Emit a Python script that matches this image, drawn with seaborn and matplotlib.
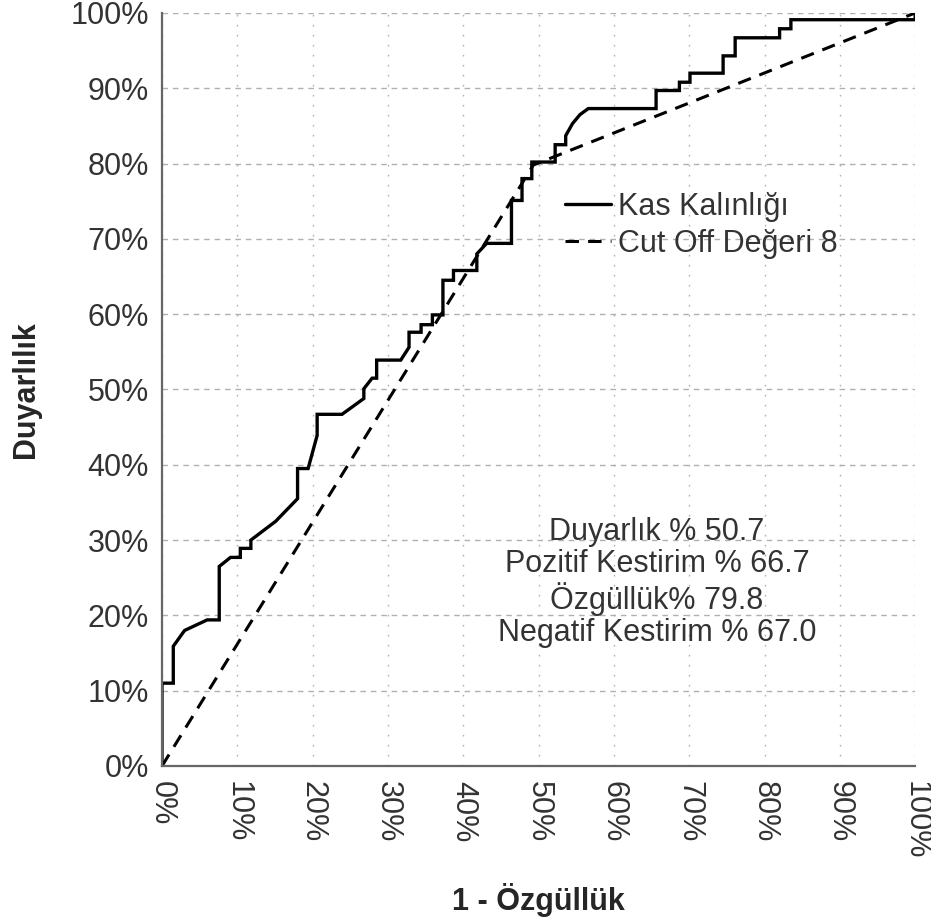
import matplotlib
matplotlib.use("Agg")
import matplotlib.pyplot as plt
import seaborn as sns
import pandas as pd
from matplotlib.ticker import FixedLocator

# ---- data (percent) ----
roc_fpr = [0, 0, 1.5, 1.5, 3, 6, 7.6, 7.6, 9.1, 10.4, 10.4, 11.8, 11.8, 15.1, 18, 18,
           19.4, 20.6, 20.6, 23.9, 26.8, 26.8, 27.9, 28.5, 28.5, 31.7, 32.8, 32.8,
           34.4, 34.4, 35.9, 35.9, 37.3, 37.3, 38.7, 38.7, 41.8, 41.8, 43.1, 46.4,
           46.4, 47.8, 47.8, 49.1, 49.1, 52.2, 52.2, 53.6, 53.6, 54.5, 55.5, 56.6,
           65.6, 65.6, 68.7, 68.7, 70.1, 70.1, 74.5, 74.5, 76.1, 76.1, 82, 82,
           83.5, 83.5, 100, 100]
roc_tpr = [0, 11, 11, 15.9, 18, 19.4, 19.4, 26.5, 27.7, 27.7, 28.9, 28.9, 30, 32.5, 35.5, 39.5,
           39.5, 43.9, 46.7, 46.7, 48.8, 50.1, 51.5, 51.5, 53.9, 53.9, 55.6, 57.6,
           57.6, 58.6, 58.6, 59.9, 59.9, 64.5, 64.5, 65.8, 65.8, 68, 69.4, 69.4,
           75.1, 75.1, 78, 78, 80.2, 80.2, 82.5, 82.5, 83.7, 85.3, 86.5, 87.3,
           87.3, 89.7, 89.7, 90.8, 90.8, 92, 92, 94.3, 94.3, 96.7, 96.7, 97.9,
           97.9, 99.1, 99.1, 100]
cut_fpr = [0, 49.3, 100]
cut_tpr = [0, 79.8, 100]

series_names = ["Kas Kalınlığı", "Cut Off Değeri 8"]
tick_values = [0, 10, 20, 30, 40, 50, 60, 70, 80, 90, 100]
tick_labels = [f"{v}%" for v in tick_values]
stats_lines = ["Duyarlık % 50.7", "Pozitif Kestirim % 66.7",
               "Özgüllük% 79.8", "Negatif Kestirim % 67.0"]
x_title = "1 - Özgüllük"
y_title = "Duyarlılık"

df_roc = pd.DataFrame({"fpr": roc_fpr, "tpr": roc_tpr, "series": series_names[0]})
df_cut = pd.DataFrame({"fpr": cut_fpr, "tpr": cut_tpr, "series": series_names[1]})

sns.set_theme(style="white")
plt.rcParams["font.family"] = ["Liberation Sans", "DejaVu Sans"]

fig = plt.figure(figsize=(9.31, 9.24), dpi=100)
ax = fig.add_axes([0.174, 0.171, 0.809, 0.815])

sns.lineplot(data=df_roc, x="fpr", y="tpr", sort=False, estimator=None,
             color="black", lw=2.4, ax=ax, label=series_names[0], solid_joinstyle="miter")
sns.lineplot(data=df_cut, x="fpr", y="tpr", sort=False, estimator=None,
             color="black", lw=2.2, ax=ax, label=series_names[1])
ax.lines[1].set_dashes([4.4, 3.0])

ax.set_xlim(0, 100)
ax.set_ylim(0, 100)
ax.xaxis.set_major_locator(FixedLocator(tick_values))
ax.yaxis.set_major_locator(FixedLocator(tick_values))
ax.set_xticklabels(tick_labels, rotation=-90, fontsize=22, color="#333333")
ax.set_yticklabels(tick_labels, fontsize=22, color="#333333")
ax.tick_params(axis="x", length=0, pad=10.5)
ax.tick_params(axis="y", length=0, pad=9.5)

ax.grid(axis="y", color="#b0b0b0", linestyle=(0, (4, 3.5)), linewidth=1.0)
ax.grid(axis="x", color="#b0b0b0", linestyle=(0, (1.2, 6)), linewidth=1.0)
ax.set_axisbelow(True)

for s in ["top", "right"]:
    ax.spines[s].set_visible(False)
for s in ["left", "bottom"]:
    ax.spines[s].set_color("#666666")
    ax.spines[s].set_linewidth(1.6)

ax.set_xlabel(x_title, fontsize=22, fontweight="bold", va="center")
ax.set_ylabel(y_title, fontsize=22, fontweight="bold", va="center")
ax.xaxis.set_label_coords(0.5, -0.178)
ax.yaxis.set_label_coords(-0.181, 0.5)

ax.text(65.7, 24.4, "\n".join(stats_lines), ha="center", va="center",
        multialignment="center", fontsize=22, color="#333333", linespacing=1.1)

leg = ax.legend(loc="upper left", bbox_to_anchor=(0.535, 0.762), frameon=False,
                fontsize=22, handlelength=1.5, handletextpad=0.25,
                labelspacing=0.22, borderpad=0, borderaxespad=0)
for t in leg.get_texts():
    t.set_color("#333333")

fig.savefig("out.png", dpi=100)
